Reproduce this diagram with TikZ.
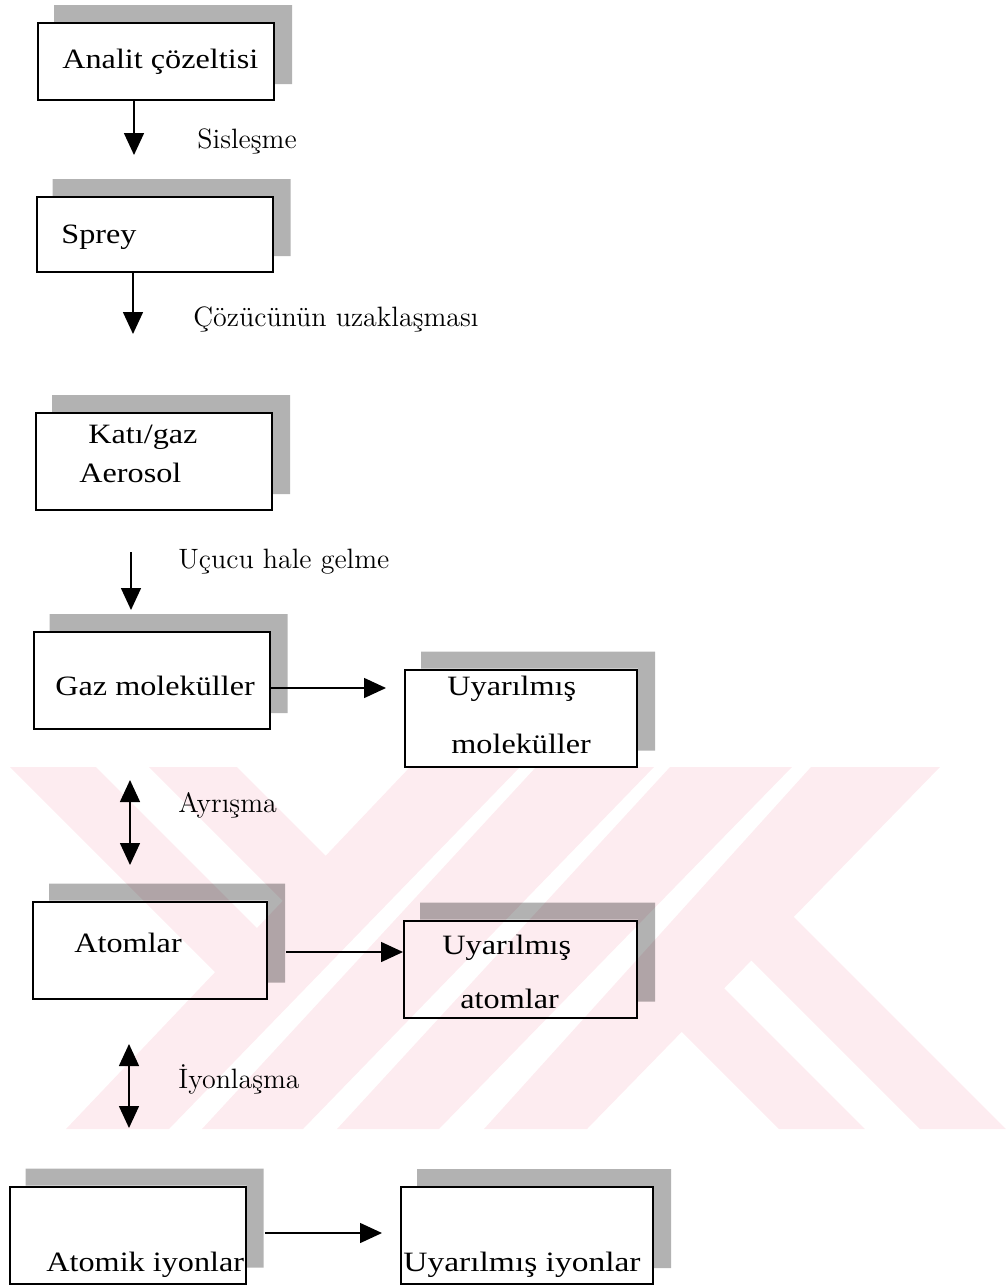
\documentclass[tikz,border=0pt]{standalone}
\usepackage{fontspec}
\usepackage{tikz}
\usetikzlibrary{arrows.meta}
\newfontfamily\boxfont[FakeStretch=1.15]{Liberation Serif}
\definecolor{wmpink}{RGB}{253,236,240}
\tikzset{
  stage/.style={draw=black,line width=1pt,inner sep=0pt,minimum width=118pt,minimum height=48.5pt},
  stagetext/.style={anchor=base west,inner sep=0pt,font=\boxfont\fontsize{14}{16}\selectfont},
  steplabel/.style={anchor=base west,inner sep=0pt,font=\fontsize{14}{16}\selectfont},
  flow/.style={line width=0.75pt,>={Triangle[length=11pt,width=10pt]}},
  sheet/.style={fill=black,fill opacity=0.3},
}
% grey sheet showing up and to the right of a box
\newcommand{\backsheet}[1]{%
  \fill[sheet] ([shift={(17,-17)}]#1.north west) -- ([shift={(17,-17)}]#1.north east)
    -- ([shift={(17,-17)}]#1.south east) -- ([shift={(0,-17)}]#1.south east)
    -- (#1.north east) -- ([shift={(17,0)}]#1.north west) -- cycle;}
\begin{document}
\begin{tikzpicture}[x=0.5pt,y=-0.5pt]
\useasboundingbox (0,0) rectangle (1006,1286);
\begin{scope}
\clip (0,767) rectangle (1006,1129);
\fill[wmpink] (66,1129) -- (169,1129) -- (520,767) -- (410,767) -- cycle;
\fill[wmpink] (202,1129) -- (303,1129) -- (654,767) -- (536,767) -- cycle;
\fill[wmpink] (337,1129) -- (439,1129) -- (792,767) -- (670,767) -- cycle;
\fill[wmpink] (484,1129) -- (587,1129) -- (940,767) -- (811,767) -- cycle;
\fill[wmpink] (10,767) -- (96,767) -- (300,971) -- (250,1007) -- cycle;
\fill[wmpink] (149,767) -- (237,767) -- (350,880) -- (302,920) -- cycle;
\fill[wmpink] (779,1129) -- (865,1129) -- (695,959) -- (649,999) -- cycle;
\fill[wmpink] (920,1129) -- (1006,1129) -- (766,889) -- (720,929) -- cycle;
\end{scope}

\node[stage,minimum height=38.5pt] (b1) at (156,61.5) {};
\node[stage,minimum height=37.5pt] (b2) at (154.5,234.5) {};
\node[stage] (b3) at (154,461.5) {};
\node[stage] (b4) at (151.5,680.5) {};
\node[stage,minimum width=116pt] (b5) at (521,718) {};
\node[stage,minimum width=117pt] (b6) at (150,950) {};
\node[stage,minimum width=116.5pt] (b7) at (520.5,969) {};
\node[stage] (b8) at (127.5,1235) {};
\node[stage,minimum width=126pt] (b9) at (527,1235.5) {};
\foreach \b in {b1,b2,b3,b4,b5,b6,b7,b8,b9}{\backsheet{\b}}

\node[stagetext] (t1) at (62,68) {Analit çözeltisi};
\node[stagetext] (t2) at (61,243) {Sprey};
\node[stagetext] (t3a) at (88,443) {Katı/gaz};
\node[stagetext] (t3b) at (79,482) {Aerosol};
\node[stagetext] (t4) at (55,695) {Gaz moleküller};
\node[stagetext] (t5a) at (447,695) {Uyarılmış};
\node[stagetext] (t5b) at (451,753) {moleküller};
\node[stagetext] (t6) at (74,952) {Atomlar};
\node[stagetext] (t7a) at (442,954) {Uyarılmış};
\node[stagetext] (t7b) at (460,1008) {atomlar};
\node[stagetext] (t8) at (46,1271) {Atomik iyonlar};
\node[stagetext,xscale=1.04] (t9) at (403,1271) {Uyarılmış iyonlar};

\node[steplabel] (l1) at (197,148) {Sisleşme};
\node[steplabel] (l2) at (193,326) {Çözücünün uzaklaşması};
\node[steplabel] (l3) at (178,568) {Uçucu hale gelme};
\node[steplabel] (l4) at (178,812) {Ayrışma};
\node[steplabel] (l5) at (178,1088) {İyonlaşma};

\coordinate (a1) at (134,155);
\coordinate (a2) at (133,334);
\coordinate (a3s) at (131,552);
\coordinate (a3) at (131,610);
\coordinate (d1) at (130,780);
\coordinate (d2) at (130,865);
\coordinate (i1) at (129,1044);
\coordinate (i2) at (129,1128);
\coordinate (h1) at (386,688);
\coordinate (h2) at (286,952);
\coordinate (h3s) at (265,1233);
\coordinate (h3) at (382,1233);
\draw[flow,->] (b1.south -| a1) -- (a1);
\draw[flow,->] (b2.south -| a2) -- (a2);
\draw[flow,->] (a3s) -- (a3);
\draw[flow,<->] (d1) -- (d2);
\draw[flow,<->] (i1) -- (i2);
\draw[flow,->] (b4.east |- h1) -- (h1);
\draw[flow,->] (h2) -- (b7.west |- h2);
\draw[flow,->] (h3s) -- (h3);
\end{tikzpicture}
\end{document}
